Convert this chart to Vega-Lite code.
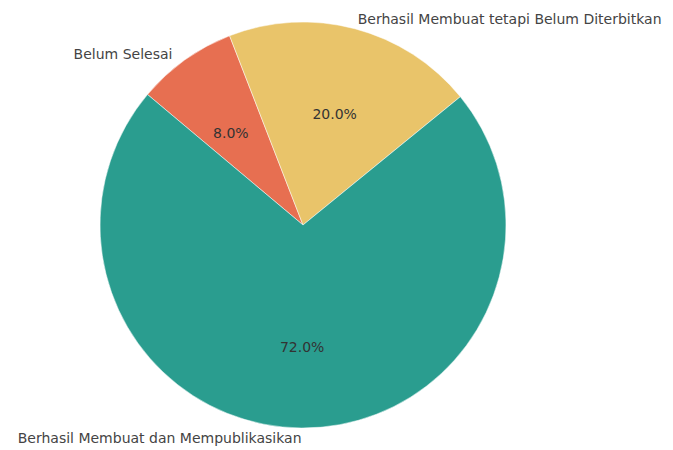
{
  "$schema": "https://vega.github.io/schema/vega-lite/v6.json",
  "autosize": "none",
  "padding": {"left": 0, "top": 0, "right": 67, "bottom": 0},
  "width": 606,
  "height": 450,
  "background": "white",
  "view": {"stroke": null},
  "data": {
    "values": [
      {"kategori": "Belum Selesai", "share": 0.08, "idx": 1},
      {"kategori": "Berhasil Membuat tetapi Belum Diterbitkan", "share": 0.20, "idx": 2},
      {"kategori": "Berhasil Membuat dan Mempublikasikan", "share": 0.72, "idx": 3}
    ]
  },
  "encoding": {
    "theta": {"field": "share", "type": "quantitative", "stack": true, "scale": {"range": [-0.87266, 5.41052]}},
    "order": {"field": "idx", "type": "quantitative"},
    "color": {
      "field": "kategori",
      "type": "nominal",
      "scale": {
        "domain": ["Belum Selesai", "Berhasil Membuat tetapi Belum Diterbitkan", "Berhasil Membuat dan Mempublikasikan"],
        "range": ["#e76f51", "#e9c46a", "#2a9d8f"]
      },
      "legend": null
    }
  },
  "layer": [
    {"mark": {"type": "arc", "outerRadius": 203, "stroke": "white", "strokeWidth": 0.5}},
    {
      "mark": {
        "type": "text",
        "radius": 124,
        "fontSize": 14,
        "font": "DejaVu Sans",
        "baseline": "middle",
        "align": "center",
        "dy": {"expr": "datum.kategori === 'Berhasil Membuat dan Mempublikasikan' ? -1 : 10"}
      },
      "encoding": {
        "text": {"field": "share", "type": "quantitative", "format": ".1%"},
        "color": {"value": "#333333"}
      }
    },
    {
      "mark": {
        "type": "text",
        "radius": 214,
        "fontSize": 14,
        "font": "DejaVu Sans",
        "baseline": "middle",
        "align": {"expr": "datum.kategori === 'Berhasil Membuat tetapi Belum Diterbitkan' ? 'left' : 'right'"},
        "dx": {"expr": "datum.kategori === 'Belum Selesai' ? -6 : 0"},
        "dy": {"expr": "datum.kategori === 'Belum Selesai' ? 4 : (datum.kategori === 'Berhasil Membuat tetapi Belum Diterbitkan' ? 2 : 0)"}
      },
      "encoding": {"text": {"field": "kategori"}, "color": {"value": "#444444"}}
    }
  ]
}
